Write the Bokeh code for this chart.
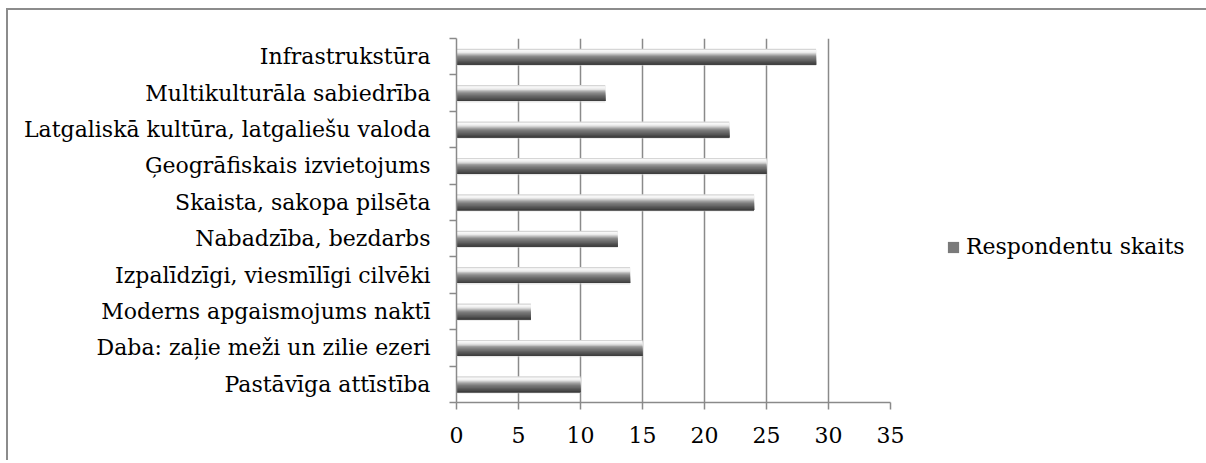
from bokeh.plotting import figure
from bokeh.models import (ColumnDataSource, FixedTicker, Legend, LegendItem,
                          Range1d)
from bokeh.transform import dodge
from bokeh.embed import file_html
from bokeh.resources import INLINE

# ---- data (top to bottom as in the chart) ----
categories = [
    "Infrastrukstūra",
    "Multikulturāla sabiedrība",
    "Latgaliskā kultūra, latgaliešu valoda",
    "Ģeogrāfiskais izvietojums",
    "Skaista, sakopa pilsēta",
    "Nabadzība, bezdarbs",
    "Izpalīdzīgi, viesmīlīgi cilvēki",
    "Moderns apgaismojums naktī",
    "Daba: zaļie meži un zilie ezeri",
    "Pastāvīga attīstība",
]
values = [29, 12, 22, 25, 24, 13, 14, 6, 15, 10]
series_name = "Respondentu skaits"
x_ticks = [0, 5, 10, 15, 20, 25, 30, 35]

n = len(categories)
ypos = [n - i - 0.5 for i in range(n)]
src = ColumnDataSource(dict(y=ypos, v=values, cat=categories))

FONT = "DejaVu Serif"
FS = "22px"

p = figure(width=1196, height=450, output_backend="svg", toolbar_location=None,
           x_range=Range1d(0, 35), y_range=Range1d(0, n),
           frame_width=434, frame_height=364,
           min_border_left=448, min_border_top=28, min_border_bottom=58,
           min_border_right=314)
p.styles = {"border-left": "2px solid #8c8c8c", "border-top": "2px solid #8c8c8c",
            "margin-left": "6px", "margin-top": "8px"}
p.outline_line_color = None
p.background_fill_color = "white"

# gridlines
p.ygrid.visible = False
p.xgrid.ticker = FixedTicker(ticks=x_ticks)
p.xgrid.grid_line_color = "#8a8a8a"
p.xgrid.grid_line_width = 1.5

# x axis
p.xaxis.ticker = FixedTicker(ticks=x_ticks)
p.xaxis.axis_line_color = "#8a8a8a"
p.xaxis.axis_line_width = 1.5
p.xaxis.major_tick_line_color = "#8a8a8a"
p.xaxis.major_tick_line_width = 1.5
p.xaxis.major_tick_in = 0
p.xaxis.major_tick_out = 7
p.xaxis.minor_tick_line_color = None
p.xaxis.major_label_text_font = FONT
p.xaxis.major_label_text_font_size = FS
p.xaxis.major_label_text_color = "black"
p.xaxis.major_label_standoff = 17

# y axis: labels at band centres, ticks at band boundaries (minor)
p.yaxis.ticker = FixedTicker(ticks=ypos, minor_ticks=list(range(n + 1)))
p.yaxis.major_label_overrides = {y: c for y, c in zip(ypos, categories)}
p.yaxis.axis_line_color = "#8a8a8a"
p.yaxis.axis_line_width = 1.5
p.yaxis.major_tick_line_color = None
p.yaxis.major_tick_out = 0
p.yaxis.major_tick_in = 0
p.yaxis.minor_tick_line_color = "#8a8a8a"
p.yaxis.minor_tick_line_width = 1.5
p.yaxis.minor_tick_out = 7
p.yaxis.minor_tick_in = 0
p.yaxis.major_label_text_font = FONT
p.yaxis.major_label_text_font_size = FS
p.yaxis.major_label_text_color = "black"
p.yaxis.major_label_standoff = 19

# bars: layered gradient for the bevelled 3D look
bar_h = 0.44
stripes = ["#d6d6d6", "#f8f8f8", "#f2f2f2", "#e2e2e2", "#c2c2c2", "#a0a0a0",
           "#8a8a8a", "#7a7a7a", "#6e6e6e", "#626262", "#565656", "#4a4a4a",
           "#3e3e3e"]
k = len(stripes)
sh = bar_h / k
# soft shadow
p.hbar(y=dodge("y", -0.035, range=p.y_range), left=0.1, right="v", height=bar_h,
       source=src, fill_color="#d0d0d0", fill_alpha=0.5, line_color=None)
renderers = []
for i, col in enumerate(stripes):
    hgt = bar_h - i * sh
    off = bar_h / 2 - i * sh - hgt / 2
    r = p.hbar(y=dodge("y", off, range=p.y_range), left=0, right="v",
               height=hgt, source=src, fill_color=col, line_color=None)
    renderers.append(r)

legend = Legend(items=[LegendItem(label=series_name, renderers=[renderers[7]])],
                location=(56, 143), border_line_color=None,
                background_fill_alpha=0,
                label_text_font=FONT, label_text_font_size=FS,
                label_text_color="black",
                glyph_width=14, glyph_height=14, margin=0, padding=2,
                label_standoff=6)
p.add_layout(legend, "right")

open("out.html", "w").write(file_html(p, INLINE))
